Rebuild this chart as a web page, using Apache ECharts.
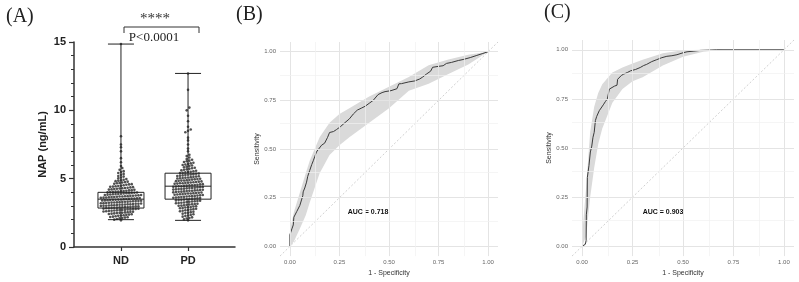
<!DOCTYPE html>
<html>
<head>
<meta charset="utf-8">
<script src="https://cdn.jsdelivr.net/npm/echarts@6.0.0/dist/echarts.min.js"></script>
<style>
  html, body { margin: 0; padding: 0; background: #fff; }
  #chart { width: 799px; height: 282px; }
</style>
</head>
<body>
<div id="chart"></div>
<script>
// panel A: NAP values per group
const groupNames = ['ND', 'PD'];
const ndValues = [
  1.95, 2.0, 2.05, 2.1,
  2.12, 2.15, 2.18, 2.2, 2.22, 2.25, 2.28,
  2.3, 2.32, 2.35, 2.37, 2.4, 2.42, 2.44, 2.46, 2.48, 2.5,
  2.51, 2.53, 2.55, 2.57, 2.58, 2.6, 2.62, 2.63, 2.65, 2.67, 2.68, 2.7,
  2.71, 2.72, 2.74, 2.75, 2.77, 2.78, 2.8, 2.81, 2.83, 2.84, 2.86, 2.87, 2.88, 2.9,
  2.91, 2.92, 2.93, 2.95, 2.96, 2.97, 2.98, 3.0, 3.01, 3.02, 3.04, 3.05, 3.06, 3.08, 3.09, 3.1,
  3.11, 3.12, 3.13, 3.15, 3.16, 3.17, 3.18, 3.2, 3.21, 3.22, 3.24, 3.25, 3.26, 3.27, 3.28, 3.3,
  3.31, 3.32, 3.33, 3.35, 3.36, 3.37, 3.38, 3.4, 3.41, 3.42, 3.44, 3.45, 3.46, 3.47, 3.48, 3.5,
  3.51, 3.52, 3.54, 3.55, 3.56, 3.58, 3.6, 3.61, 3.62, 3.64, 3.65, 3.66, 3.68, 3.69, 3.7,
  3.71, 3.72, 3.74, 3.75, 3.77, 3.78, 3.8, 3.81, 3.83, 3.84, 3.86, 3.87, 3.88, 3.9,
  3.91, 3.93, 3.94, 3.96, 3.97, 3.99, 4.0, 4.02, 4.03, 4.05, 4.06, 4.08, 4.1,
  4.12, 4.14, 4.16, 4.18, 4.2, 4.22, 4.24, 4.26, 4.28, 4.3,
  4.32, 4.34, 4.36, 4.38, 4.4, 4.42, 4.44, 4.46, 4.48,
  4.52, 4.55, 4.58, 4.6, 4.63, 4.66, 4.69,
  4.72, 4.75, 4.78, 4.82, 4.85, 4.88,
  4.92, 4.97, 5.02, 5.08,
  5.15, 5.2, 5.28,
  5.35, 5.42, 5.48,
  5.55, 5.65,
  5.78, 5.92,
  6.2, 6.5, 7.0, 7.3, 7.5, 8.1, 14.85
];
const pdValues = [
  1.95, 2.02, 2.08,
  2.12, 2.17, 2.22, 2.27,
  2.31, 2.35, 2.4, 2.44, 2.48,
  2.51, 2.55, 2.58, 2.62, 2.65, 2.69,
  2.71, 2.74, 2.77, 2.8, 2.83, 2.86, 2.89,
  2.91, 2.93, 2.96, 2.98, 3.01, 3.03, 3.06, 3.09,
  3.11, 3.13, 3.15, 3.17, 3.2, 3.22, 3.24, 3.26, 3.29,
  3.31, 3.33, 3.35, 3.37, 3.39, 3.41, 3.43, 3.45, 3.47, 3.49,
  3.51, 3.52, 3.54, 3.56, 3.58, 3.6, 3.62, 3.64, 3.66, 3.67, 3.69,
  3.71, 3.72, 3.74, 3.76, 3.78, 3.8, 3.82, 3.84, 3.86, 3.87, 3.89,
  3.91, 3.92, 3.94, 3.95, 3.97, 3.99, 4.0, 4.02, 4.04, 4.05, 4.07, 4.09,
  4.11, 4.12, 4.14, 4.15, 4.17, 4.19, 4.2, 4.22, 4.24, 4.25, 4.27, 4.29,
  4.31, 4.32, 4.34, 4.35, 4.37, 4.39, 4.4, 4.42, 4.44, 4.45, 4.47, 4.49,
  4.51, 4.52, 4.54, 4.56, 4.58, 4.6, 4.62, 4.64, 4.66, 4.67, 4.69,
  4.71, 4.72, 4.74, 4.76, 4.78, 4.8, 4.82, 4.84, 4.86, 4.87, 4.89,
  4.91, 4.93, 4.95, 4.97, 4.99, 5.01, 5.03, 5.05, 5.07, 5.09,
  5.11, 5.13, 5.15, 5.18, 5.2, 5.22, 5.24, 5.26, 5.29,
  5.31, 5.33, 5.36, 5.38, 5.41, 5.43, 5.46, 5.48,
  5.51, 5.54, 5.58, 5.61, 5.65, 5.68,
  5.72, 5.76, 5.8, 5.84, 5.88,
  5.92, 5.96, 6.0, 6.04, 6.08,
  6.12, 6.17, 6.22, 6.27,
  6.32, 6.38, 6.44,
  6.55, 6.65, 6.75,
  7.0, 7.2, 7.5, 7.8, 8.0, 8.4, 8.5, 8.6, 8.8, 9.2, 9.6, 10.0, 10.2, 11.5, 12.7
];
// min, Q1, median, Q3, max
const ndBox = [2.0, 2.85, 3.5, 4.0, 14.85];
const pdBox = [1.95, 3.5, 4.45, 5.4, 12.7];
const napTicks = [0, 5, 10, 15];

// panels B / C: ROC curves [1 - specificity, sensitivity]
const rocTicks = [0, 0.25, 0.5, 0.75, 1];
const rocMinor = [0.125, 0.375, 0.625, 0.875];
const rocB = [[0,0],[0,0.06],[0.01,0.06],[0.01,0.09],[0.017,0.11],[0.02,0.15],[0.03,0.15],[0.035,0.18],
  [0.042,0.19],[0.05,0.21],[0.06,0.22],[0.065,0.26],[0.067,0.28],[0.075,0.3],[0.084,0.33],[0.09,0.36],
  [0.1,0.39],[0.11,0.42],[0.118,0.44],[0.125,0.46],[0.134,0.485],[0.145,0.5],[0.16,0.52],[0.175,0.53],
  [0.185,0.54],[0.19,0.56],[0.2,0.585],[0.22,0.59],[0.235,0.6],[0.255,0.615],[0.277,0.635],[0.3,0.655],
  [0.32,0.68],[0.34,0.7],[0.36,0.71],[0.38,0.72],[0.4,0.735],[0.42,0.75],[0.445,0.78],[0.465,0.79],
  [0.48,0.795],[0.51,0.8],[0.54,0.81],[0.55,0.835],[0.563,0.836],[0.6,0.845],[0.63,0.85],[0.655,0.86],
  [0.67,0.87],[0.69,0.886],[0.71,0.9],[0.72,0.92],[0.75,0.925],[0.773,0.928],[0.79,0.94],[0.815,0.945],
  [0.85,0.955],[0.874,0.96],[0.91,0.97],[0.94,0.98],[0.97,0.99],[1,1]];
// [1 - specificity, lower, upper]
const bandB = [[0,0,0.08],[0.02,0.025,0.175],[0.05,0.09,0.275],[0.08,0.16,0.376],[0.1,0.225,0.44],
  [0.15,0.376,0.56],[0.2,0.47,0.635],[0.25,0.52,0.68],[0.3,0.56,0.71],[0.4,0.635,0.77],[0.5,0.71,0.82],
  [0.6,0.8,0.87],[0.7,0.835,0.93],[0.8,0.885,0.96],[0.9,0.935,0.985],[1,1,1]];
const rocC = [[0,0],[0.016,0.01],[0.02,0.03],[0.021,0.16],[0.025,0.2],[0.026,0.35],[0.03,0.36],[0.034,0.41],
  [0.038,0.42],[0.041,0.48],[0.048,0.51],[0.054,0.555],[0.06,0.58],[0.066,0.64],[0.072,0.66],[0.077,0.67],
  [0.085,0.69],[0.094,0.7],[0.105,0.72],[0.115,0.736],[0.125,0.75],[0.13,0.76],[0.135,0.8],[0.14,0.81],
  [0.16,0.815],[0.173,0.82],[0.176,0.85],[0.18,0.86],[0.195,0.87],[0.206,0.876],[0.225,0.885],[0.24,0.893],
  [0.265,0.9],[0.288,0.91],[0.305,0.92],[0.32,0.926],[0.345,0.94],[0.37,0.95],[0.395,0.96],[0.42,0.967],
  [0.445,0.97],[0.47,0.975],[0.5,0.985],[0.52,0.99],[0.55,0.993],[0.585,0.997],[0.62,0.998],[0.667,1],[1,1]];
const bandC = [[0,0,0.05],[0.02,0.05,0.3],[0.04,0.25,0.58],[0.06,0.4,0.71],[0.08,0.52,0.78],[0.1,0.6,0.825],
  [0.15,0.73,0.885],[0.2,0.8,0.91],[0.25,0.84,0.93],[0.3,0.86,0.95],[0.4,0.92,0.983],[0.5,0.965,0.998],
  [0.6,0.99,1],[0.7,1,1],[1,1,1]];
const aucB = 'AUC = 0.718';
const aucC = 'AUC = 0.903';

// 按行排列散点（类似 GraphPad 的 scatter dot plot）
function swarm(values, xc) {
  const rows = {};
  values.slice().sort((a, b) => a - b).forEach(v => {
    const k = Math.floor(v / 0.2);
    (rows[k] = rows[k] || []).push(v);
  });
  const pts = [];
  Object.keys(rows).forEach(k => {
    const r = rows[k];
    r.forEach((v, i) => pts.push([xc + (i - (r.length - 1) / 2) * 0.04, v]));
  });
  return pts;
}

const serif = '"Liberation Serif", "DejaVu Serif", serif';
const sans = '"Liberation Sans", Arial, sans-serif';

function rocAxes(gridIndex) {
  const common = {
    gridIndex: gridIndex,
    type: 'value',
    min: -0.05,
    max: 1.05,
    axisLine: { show: false },
    axisTick: { show: false },
    splitLine: { show: false },
    nameLocation: 'middle',
    nameTextStyle: { fontFamily: sans, fontSize: 7, color: '#333' }
  };
  return {
    x: Object.assign({}, common, {
      name: '1 - Specificity',
      nameGap: 12,
      axisLabel: { customValues: rocTicks, formatter: v => v.toFixed(2), fontSize: 6, color: '#666', fontFamily: sans, margin: 3 }
    }),
    y: Object.assign({}, common, {
      name: 'Sensitivity',
      nameGap: 18,
      axisLabel: { customValues: rocTicks, formatter: v => v.toFixed(2), fontSize: 6, color: '#666', fontFamily: sans, margin: 4 }
    })
  };
}

function gridLines(idx) {
  const data = [];
  rocTicks.forEach(v => {
    data.push({ xAxis: v, lineStyle: { color: '#e4e4e4', width: 1, type: 'solid' } });
    data.push({ yAxis: v, lineStyle: { color: '#e4e4e4', width: 1, type: 'solid' } });
  });
  rocMinor.forEach(v => {
    data.push({ xAxis: v, lineStyle: { color: '#f1f1f1', width: 0.7, type: 'solid' } });
    data.push({ yAxis: v, lineStyle: { color: '#f1f1f1', width: 0.7, type: 'solid' } });
  });
  return {
    type: 'line', xAxisIndex: idx, yAxisIndex: idx, data: [], silent: true, z: 0,
    markLine: { silent: true, symbol: ['none', 'none'], label: { show: false }, animation: false, lineStyle: { type: 'solid' }, data: data }
  };
}

function rocSeries(idx, curve, band) {
  return [
    gridLines(idx),
    {
      // 置信区间阴影带：上界 + 反向下界 组成多边形
      type: 'custom', xAxisIndex: idx, yAxisIndex: idx, silent: true, z: 1,
      data: [[0, 0]],
      renderItem: function (params, api) {
        const upper = band.map(d => api.coord([d[0], d[2]]));
        const lower = band.map(d => api.coord([d[0], d[1]])).reverse();
        return {
          type: 'polygon',
          shape: { points: upper.concat(lower) },
          style: { fill: '#dadada', stroke: null }
        };
      }
    },
    {
      type: 'line', xAxisIndex: idx, yAxisIndex: idx, showSymbol: false, silent: true,
      data: [[-0.05, -0.05], [1.05, 1.05]],
      lineStyle: { color: '#c4c4c4', width: 0.8, type: [2, 2] }, z: 2
    },
    {
      type: 'line', xAxisIndex: idx, yAxisIndex: idx, showSymbol: false, silent: true,
      data: curve, lineStyle: { color: '#3a3a3a', width: 1 }, z: 3
    }
  ];
}

const chart = echarts.init(document.getElementById('chart'));
const axB = rocAxes(1);
const axC = rocAxes(2);

chart.setOption({
  animation: false,
  backgroundColor: '#fff',
  grid: [
    { left: 74, top: 42, width: 161, height: 205 },
    { left: 280, top: 42, width: 218, height: 220 },
    { left: 572, top: 40, width: 222, height: 222 }
  ],
  xAxis: [
    {
      gridIndex: 0, type: 'value', min: 0.3, max: 2.7,
      axisLine: { lineStyle: { color: '#333', width: 1.5 } },
      axisTick: { customValues: [1, 2], length: 4, lineStyle: { color: '#333', width: 1.2 } },
      axisLabel: {
        customValues: [1, 2], formatter: v => groupNames[Math.round(v) - 1],
        fontFamily: sans, fontWeight: 'bold', fontSize: 11, color: '#222', margin: 8
      },
      splitLine: { show: false }
    },
    axB.x, axC.x
  ],
  yAxis: [
    {
      gridIndex: 0, type: 'value', min: 0, max: 15, interval: 5,
      name: 'NAP (ng/mL)', nameLocation: 'middle', nameGap: 26,
      nameTextStyle: { fontFamily: sans, fontWeight: 'bold', fontSize: 11, color: '#222' },
      axisLine: { show: true, lineStyle: { color: '#333', width: 1.5 } },
      axisTick: { show: true, length: 5, lineStyle: { color: '#333', width: 1.2 } },
      minorTick: { show: true, splitNumber: 5, length: 3, lineStyle: { color: '#333', width: 1 } },
      axisLabel: { customValues: napTicks, fontFamily: sans, fontWeight: 'bold', fontSize: 11, color: '#222', margin: 8 },
      splitLine: { show: false }
    },
    axB.y, axC.y
  ],
  graphic: [
    { type: 'text', left: 6, top: 7, style: { text: '(A)', font: '20px ' + serif, fill: '#222' } },
    { type: 'text', left: 236, top: 5, style: { text: '(B)', font: '20px ' + serif, fill: '#222' } },
    { type: 'text', left: 544, top: 3, style: { text: '(C)', font: '20px ' + serif, fill: '#222' } },
    { type: 'polyline', shape: { points: [[124, 33], [124, 27], [199, 27], [199, 33]] }, style: { stroke: '#333', lineWidth: 1, fill: null } },
    { type: 'text', x: 155, y: 19, style: { text: '****', font: '15px ' + serif, fill: '#333', align: 'center', verticalAlign: 'middle' } },
    { type: 'text', x: 154, y: 38, style: { text: 'P<0.0001', font: '13px ' + serif, fill: '#222', align: 'center', verticalAlign: 'middle' } },
    { type: 'text', x: 368, y: 212, style: { text: aucB, font: 'bold 7px ' + sans, fill: '#111', align: 'center', verticalAlign: 'middle' } },
    { type: 'text', x: 663, y: 212, style: { text: aucC, font: 'bold 7px ' + sans, fill: '#111', align: 'center', verticalAlign: 'middle' } }
  ],
  series: [
    {
      type: 'scatter', xAxisIndex: 0, yAxisIndex: 0, silent: true,
      data: swarm(ndValues, 1).concat(swarm(pdValues, 2)),
      symbolSize: 2.6, itemStyle: { color: '#262626' }, z: 2
    },
    {
      type: 'custom', xAxisIndex: 0, yAxisIndex: 0, silent: true, z: 3,
      data: [[1].concat(ndBox), [2].concat(pdBox)],
      encode: { x: 0, y: [1, 2, 3, 4, 5] },
      renderItem: function (params, api) {
        const x = api.value(0);
        const p = [1, 2, 3, 4, 5].map(i => api.coord([x, api.value(i)]));
        const cx = p[0][0], hw = 23, cw = 13;
        const st = { stroke: '#222', lineWidth: 1, fill: null };
        const ln = (x1, y1, x2, y2) => ({ type: 'line', shape: { x1: x1, y1: y1, x2: x2, y2: y2 }, style: st });
        return {
          type: 'group',
          children: [
            { type: 'rect', shape: { x: cx - hw, y: p[3][1], width: hw * 2, height: p[1][1] - p[3][1] }, style: st },
            ln(cx - hw, p[2][1], cx + hw, p[2][1]),
            ln(cx, p[3][1], cx, p[4][1]),
            ln(cx, p[1][1], cx, p[0][1]),
            ln(cx - cw, p[4][1], cx + cw, p[4][1]),
            ln(cx - cw, p[0][1], cx + cw, p[0][1])
          ]
        };
      }
    }
  ].concat(rocSeries(1, rocB, bandB), rocSeries(2, rocC, bandC))
});
</script>
</body>
</html>
